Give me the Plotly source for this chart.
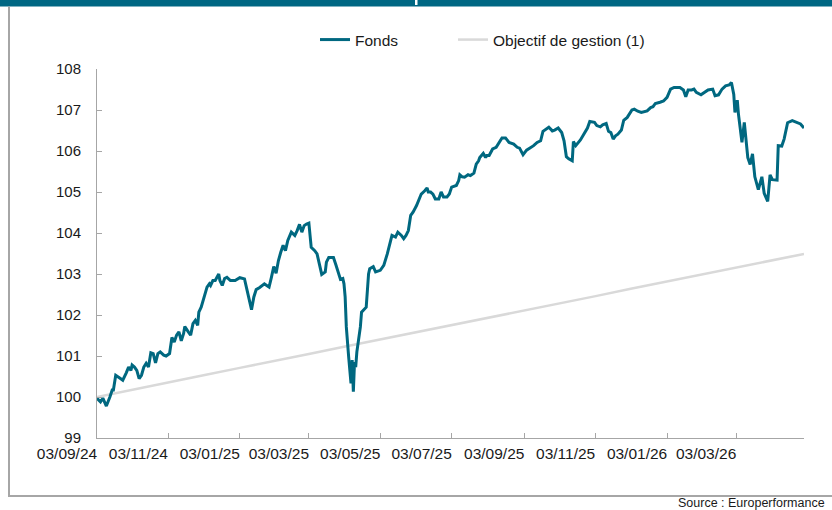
import plotly.graph_objects as go

# ---- Data ----
fonds_dates = [
 "2024-09-03","2024-09-06","2024-09-08","2024-09-11","2024-09-14","2024-09-16","2024-09-17","2024-09-19","2024-09-23","2024-09-25",
 "2024-09-28","2024-09-30","2024-10-02","2024-10-03","2024-10-05","2024-10-07","2024-10-09","2024-10-11","2024-10-13","2024-10-15",
 "2024-10-17","2024-10-19","2024-10-21","2024-10-23","2024-10-25","2024-10-27","2024-10-30","2024-11-01","2024-11-04","2024-11-06",
 "2024-11-08","2024-11-10","2024-11-12","2024-11-14","2024-11-16","2024-11-17","2024-11-20","2024-11-22","2024-11-24","2024-11-26",
 "2024-11-28","2024-11-29","2024-12-01","2024-12-03","2024-12-06","2024-12-08","2024-12-09","2024-12-11","2024-12-13","2024-12-16",
 "2024-12-17","2024-12-19","2024-12-21","2024-12-23","2024-12-26","2024-12-30","2025-01-03","2025-01-07","2025-01-09","2025-01-11",
 "2025-01-13","2025-01-15","2025-01-17","2025-01-20","2025-01-24","2025-01-26","2025-01-28","2025-01-30","2025-02-01","2025-02-03",
 "2025-02-05","2025-02-07","2025-02-09","2025-02-11","2025-02-13","2025-02-16","2025-02-19","2025-02-21","2025-02-23","2025-02-25",
 "2025-02-27","2025-03-01","2025-03-03","2025-03-05","2025-03-08","2025-03-10","2025-03-12","2025-03-14","2025-03-17","2025-03-18",
 "2025-03-20","2025-03-24","2025-03-26","2025-03-28","2025-03-30","2025-04-01","2025-04-02","2025-04-03","2025-04-04","2025-04-06",
 "2025-04-07","2025-04-08","2025-04-09","2025-04-10","2025-04-11","2025-04-12","2025-04-13","2025-04-16","2025-04-17","2025-04-20",
 "2025-04-21","2025-04-23","2025-04-24","2025-04-27","2025-04-29","2025-05-03","2025-05-06","2025-05-09","2025-05-11","2025-05-13",
 "2025-05-16","2025-05-18","2025-05-21","2025-05-23","2025-05-25","2025-05-27","2025-05-29","2025-05-31","2025-06-03","2025-06-05",
 "2025-06-07","2025-06-10","2025-06-12","2025-06-13","2025-06-15","2025-06-17","2025-06-19","2025-06-22","2025-06-24","2025-06-26",
 "2025-06-29","2025-07-01","2025-07-03","2025-07-07","2025-07-09","2025-07-10","2025-07-12","2025-07-14","2025-07-17","2025-07-19",
 "2025-07-22","2025-07-24","2025-07-26","2025-07-27","2025-07-30","2025-08-01","2025-08-02","2025-08-04","2025-08-07","2025-08-10",
 "2025-08-13","2025-08-15","2025-08-18","2025-08-21","2025-08-25","2025-08-28","2025-08-30","2025-09-02","2025-09-05","2025-09-08",
 "2025-09-11","2025-09-14","2025-09-17","2025-09-19","2025-09-22","2025-09-24","2025-09-27","2025-09-29","2025-10-02","2025-10-05",
 "2025-10-07","2025-10-09","2025-10-11","2025-10-14","2025-10-15","2025-10-17","2025-10-21","2025-10-24","2025-10-27","2025-10-29",
 "2025-11-02","2025-11-04","2025-11-07","2025-11-09","2025-11-12","2025-11-14","2025-11-16","2025-11-18","2025-11-20","2025-11-22",
 "2025-11-25","2025-11-27","2025-11-30","2025-12-04","2025-12-06","2025-12-09","2025-12-12","2025-12-17","2025-12-20","2025-12-22",
 "2025-12-24","2025-12-28","2025-12-31","2026-01-03","2026-01-06","2026-01-09","2026-01-12","2026-01-14","2026-01-17","2026-01-19",
 "2026-01-21","2026-01-24","2026-01-26","2026-01-28","2026-02-01","2026-02-04","2026-02-07","2026-02-11","2026-02-13","2026-02-16",
 "2026-02-19","2026-02-22","2026-02-25","2026-02-27","2026-03-01","2026-03-02","2026-03-04","2026-03-05","2026-03-07","2026-03-08",
 "2026-03-10","2026-03-12","2026-03-13","2026-03-15","2026-03-17","2026-03-19","2026-03-22","2026-03-25","2026-03-27","2026-03-30",
 "2026-04-01","2026-04-03","2026-04-05","2026-04-07","2026-04-08","2026-04-11","2026-04-13","2026-04-16","2026-04-20","2026-04-23",
 "2026-04-27","2026-04-30"]

fonds_values = [
 99.97,99.88,99.97,99.78,100.00,100.17,100.17,100.53,100.45,100.41,
 100.59,100.73,100.65,100.78,100.73,100.65,100.45,100.53,100.73,100.82,
 100.73,101.08,101.06,100.83,101.06,101.10,101.02,101.00,101.06,101.45,
 101.34,101.51,101.59,101.37,101.55,101.72,101.59,101.51,101.79,101.87,
 101.75,102.07,102.19,102.40,102.68,102.76,102.72,102.84,102.84,103.00,
 102.84,102.72,102.89,102.92,102.84,102.84,102.91,102.88,102.60,102.36,
 102.13,102.44,102.62,102.67,102.76,102.72,102.68,102.92,103.18,103.02,
 103.33,103.53,103.70,103.57,103.82,104.02,103.94,104.06,104.21,104.02,
 104.18,104.22,104.24,103.65,103.57,103.49,103.21,102.99,103.05,103.29,
 103.40,103.40,103.23,103.03,102.87,102.89,102.76,102.44,101.71,100.98,
 100.57,100.33,100.90,100.13,100.85,100.73,101.10,101.71,102.07,102.15,
 102.19,103.00,103.13,103.18,103.05,103.09,103.21,103.49,103.74,103.94,
 103.90,104.02,103.94,103.86,103.94,104.06,104.43,104.51,104.67,104.83,
 104.95,105.03,105.10,105.00,105.00,104.95,104.83,104.83,105.00,104.88,
 104.88,104.95,105.12,105.16,105.28,105.42,105.37,105.36,105.42,105.40,
 105.46,105.68,105.76,105.84,105.94,105.84,105.89,105.89,106.05,106.09,
 106.25,106.32,106.32,106.21,106.17,106.09,106.07,105.91,106.02,106.07,
 106.13,106.21,106.25,106.48,106.53,106.58,106.49,106.51,106.56,106.45,
 106.25,105.86,105.81,105.76,106.23,106.13,106.27,106.40,106.56,106.72,
 106.70,106.62,106.59,106.64,106.67,106.48,106.45,106.29,106.37,106.41,
 106.51,106.75,106.82,107.00,107.02,106.97,106.94,106.98,107.06,107.08,
 107.16,107.19,107.22,107.31,107.51,107.55,107.55,107.55,107.49,107.32,
 107.49,107.49,107.51,107.43,107.37,107.43,107.49,107.51,107.35,107.37,
 107.51,107.59,107.61,107.67,107.38,106.94,107.24,106.90,106.45,106.21,
 106.70,106.17,105.84,105.67,105.93,105.37,105.06,105.37,104.97,104.77,
 105.42,105.30,105.29,105.29,106.13,106.12,106.29,106.69,106.74,106.70,
 106.66,106.56]

objectif_dates = [
 "2024-09-03","2024-10-03","2024-11-03","2024-12-03","2025-01-03","2025-02-03","2025-03-03",
 "2025-04-03","2025-05-03","2025-06-03","2025-07-03","2025-08-03","2025-09-03","2025-10-03",
 "2025-11-03","2025-12-03","2026-01-03","2026-02-03","2026-03-03","2026-04-03","2026-04-30"]
objectif_values = [
 100.00,100.17,100.35,100.53,100.71,100.88,101.05,
 101.23,101.40,101.58,101.75,101.93,102.11,102.28,
 102.46,102.64,102.82,103.00,103.16,103.34,103.49]

tick_dates = ["2024-09-03","2024-11-03","2025-01-03","2025-03-03","2025-05-03",
              "2025-07-03","2025-09-03","2025-11-03","2026-01-03","2026-03-03"]
tick_labels = ["03/09/24","03/11/24","03/01/25","03/03/25","03/05/25",
               "03/07/25","03/09/25","03/11/25","03/01/26","03/03/26"]
y_ticks = [99, 100, 101, 102, 103, 104, 105, 106, 107, 108]

FONDS_COLOR = "#006880"
OBJ_COLOR = "#d9d9d9"
AXIS_COLOR = "#a6a6a6"
FONT = "Liberation Sans, Arial, sans-serif"

fig = go.Figure()
fig.add_trace(go.Scatter(x=objectif_dates, y=objectif_values, mode="lines",
                         name="Objectif de gestion (1)", legend="legend2",
                         line=dict(color=OBJ_COLOR, width=2.5)))
fig.add_trace(go.Scatter(x=fonds_dates, y=fonds_values, mode="lines", name="Fonds",
                         legend="legend",
                         line=dict(color=FONDS_COLOR, width=3)))

H = 369.0
W = 707.0
def px_x(p):
    return (p - 97) / W
def px_y(p):
    return (438 - p) / H

fig.update_layout(
    width=832, height=510,
    margin=dict(l=97, r=28, t=69, b=72),
    paper_bgcolor="white", plot_bgcolor="white",
    font=dict(family=FONT, size=15, color="#1a1a1a"),
    showlegend=True,
    legend=dict(orientation="h", x=px_x(315), xanchor="left", y=px_y(40), yanchor="middle",
                font=dict(size=15.5), bgcolor="rgba(0,0,0,0)"),
    legend2=dict(orientation="h", x=px_x(453), xanchor="left", y=px_y(40), yanchor="middle",
                 font=dict(size=15.5), bgcolor="rgba(0,0,0,0)"),
    xaxis=dict(type="date", range=["2024-09-03", "2026-04-30"],
               tickvals=tick_dates, ticktext=tick_labels,
               ticks="inside", ticklen=5, tickcolor=AXIS_COLOR, tickwidth=1,
               showline=True, linecolor=AXIS_COLOR, linewidth=1,
               showgrid=False, zeroline=False, ticklabelshift=-30,
               ticklabelstandoff=1, tickfont=dict(size=15.5)),
    yaxis=dict(range=[99, 108], tickvals=y_ticks,
               ticks="inside", ticklen=5, tickcolor=AXIS_COLOR, tickwidth=1,
               showline=True, linecolor=AXIS_COLOR, linewidth=1,
               showgrid=False, zeroline=False, ticklabelstandoff=12,
               tickfont=dict(size=15)),
)

shapes = [
    dict(type="rect", xref="paper", yref="paper", x0=px_x(0), x1=px_x(832),
         y0=px_y(6.5), y1=px_y(-2), fillcolor="#006783", line=dict(width=0), layer="above"),
    dict(type="rect", xref="paper", yref="paper", x0=px_x(415), x1=px_x(417.5),
         y0=px_y(5), y1=px_y(0), fillcolor="white", line=dict(width=0), layer="above"),
    dict(type="line", xref="paper", yref="paper", x0=px_x(9), x1=px_x(9),
         y0=px_y(6.5), y1=px_y(496), line=dict(color=AXIS_COLOR, width=2)),
    dict(type="line", xref="paper", yref="paper", x0=px_x(8), x1=px_x(840),
         y0=px_y(496), y1=px_y(496), line=dict(color=AXIS_COLOR, width=2)),
]
fig.update_layout(shapes=shapes)

fig.add_annotation(text="Source : Europerformance", xref="paper", yref="paper",
                   x=px_x(827), y=px_y(502.5), xanchor="right", yanchor="middle",
                   showarrow=False, font=dict(size=12.5, color="#1a1a1a"))

fig.write_html("out.html", config={"displayModeBar": False},
               post_script="document.body.style.margin='0';document.body.style.padding='0';")
